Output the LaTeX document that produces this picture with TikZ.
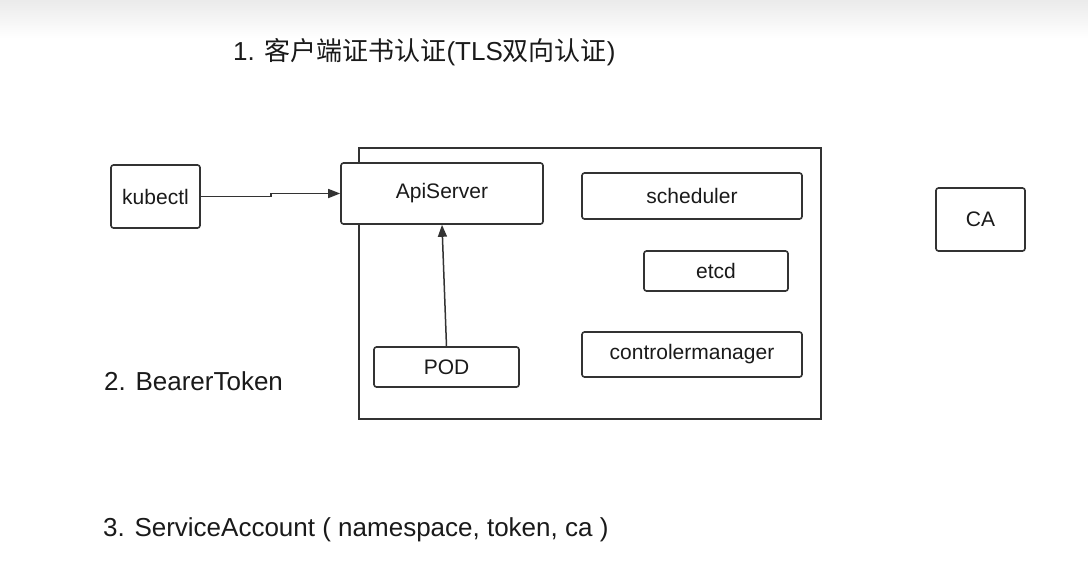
\documentclass[tikz,border=0pt]{standalone}
\usepackage{fontspec}
\setmainfont{Liberation Sans}
\newfontfamily\cjk{Noto Sans CJK SC}
\usetikzlibrary{arrows.meta}
\definecolor{linegray}{HTML}{333333}
\definecolor{txtgray}{HTML}{1A1A1A}

\begin{document}
\begin{tikzpicture}[x=1pt,y=-1pt,
  box/.style={draw=linegray, line width=1.6pt, rounded corners=2.5pt, fill=white, text=txtgray, font=\fontsize{21}{25}\selectfont, inner sep=0pt},
  heading/.style={anchor=west, text=txtgray, font=\fontsize{26}{30}\selectfont, inner sep=0pt},
  arr/.style={draw=linegray, line width=1.5pt, -{Triangle[length=12pt,width=9pt]}}]
\useasboundingbox (0,0) rectangle (1088,574);
% Sfondo
\fill[white] (0,0) rectangle (1088,574);
\shade[top color=black!8, bottom color=white] (0,0) rectangle (1088,38);

% Titoli
\node[heading] (tls) at (233,52) {1. {\cjk 客户端证书认证}(TLS{\cjk 双向认证})};
\node[heading] (bearer) at (104,381) {2. BearerToken};
\node[heading] (sa) at (103,530) {3. ServiceAccount ( namespace, token, ca )};

% Master
\draw[linegray, line width=1.6pt] (359,148) rectangle (821,419);

% Componenti
\node[box, minimum width=89pt, minimum height=63pt] (kubectl) at (155.5,196.5) {kubectl};
\node[box, minimum width=202pt, minimum height=61pt] (api) at (442,193.5) {ApiServer};
\node[box, minimum width=220pt, minimum height=46pt] (sched) at (692,196) {scheduler};
\node[box, minimum width=144pt, minimum height=40pt] (etcd) at (716,271) {etcd};
\node[box, minimum width=220pt, minimum height=45pt] (cm) at (692,354.5) {controlermanager};
\node[box, minimum width=145pt, minimum height=40pt] (pod) at (446.5,367) {POD};
\node[box, minimum width=89pt, minimum height=63pt] (ca) at (980.5,219.5) {CA};

% Frecce
\draw[arr] (kubectl.east) -- ++(70,0) |- (api.west);
\draw[arr] (pod.north) -- (api.south);
\end{tikzpicture}
\end{document}
